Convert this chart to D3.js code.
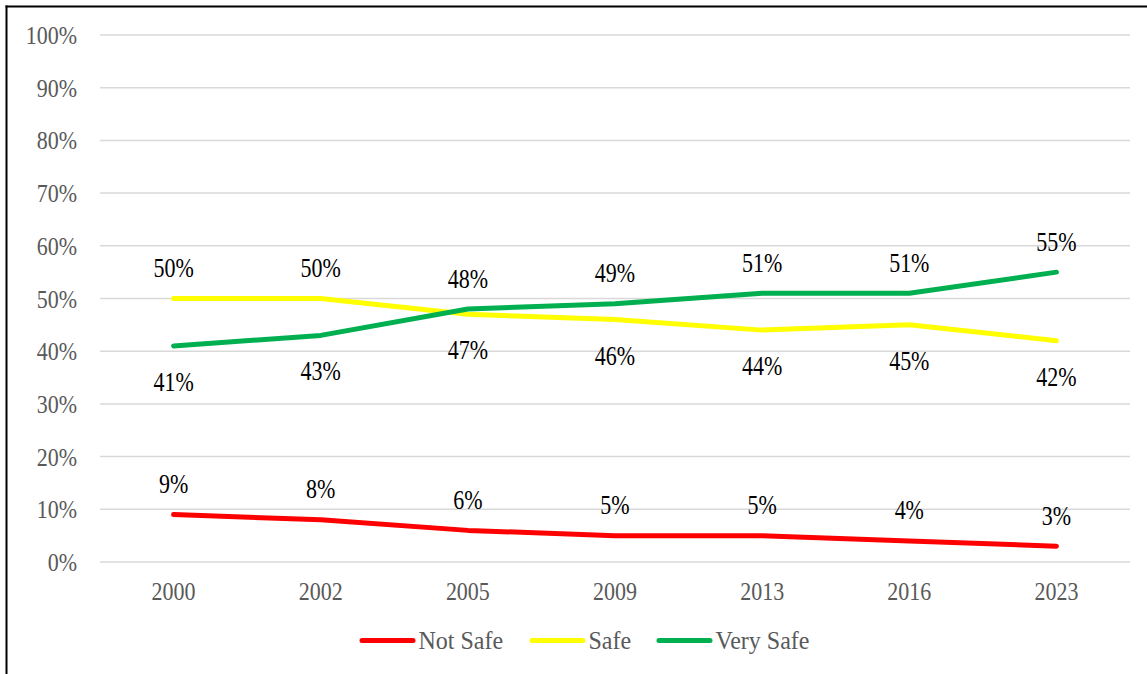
<!DOCTYPE html>
<html>
<head>
<meta charset="utf-8">
<script src="https://cdn.jsdelivr.net/npm/d3@7"></script>
<style>
    body { margin: 0; background: #fff; }
    svg { display: block; }
    svg text { font-family: 'Liberation Serif', 'Times New Roman', serif; }
</style>
</head>
<body>
<div id="chart"></div>
<script>
const years = ['2000', '2002', '2005', '2009', '2013', '2016', '2023'];
const notSafe = [9, 8, 6, 5, 5, 4, 3];
const safe = [50, 50, 47, 46, 44, 45, 42];
const verySafe = [41, 43, 48, 49, 51, 51, 55];
const yTicks = [0, 10, 20, 30, 40, 50, 60, 70, 80, 90, 100];

const seriesNames = ['Not Safe', 'Safe', 'Very Safe'];
const seriesValues = [notSafe, safe, verySafe];
const colors = ['#ff0000', '#ffff00', '#00b050'];

const W = 1147, H = 674;
const margin = { top: 35, right: 17, bottom: 112, left: 100 };
const width = W - margin.left - margin.right;
const height = H - margin.top - margin.bottom;
// text in the picture is a bit taller than wide
const tickStretch = 1.15;
const labelStretch = 1.22;

const svg = d3.select("#chart")
    .append("svg")
    .attr("width", W)
    .attr("height", H);

// outer frame (only left and top edges visible)
svg.append("line").attr("x1", 6.5).attr("x2", 6.5).attr("y1", 5.5).attr("y2", H)
    .attr("stroke", "#000").attr("stroke-width", 2);
svg.append("line").attr("x1", 5.5).attr("x2", W).attr("y1", 6.5).attr("y2", 6.5)
    .attr("stroke", "#000").attr("stroke-width", 2);

const g = svg.append("g")
    .attr("transform", `translate(${margin.left},${margin.top})`);

const x = d3.scaleBand()
    .domain(years)
    .range([0, width]);

const y = d3.scaleLinear()
    .domain([0, 100])
    .range([height, 0]);

// gridlines
g.append("g")
    .selectAll("line")
    .data(yTicks)
    .enter()
    .append("line")
    .attr("x1", 0)
    .attr("x2", width)
    .attr("y1", d => y(d))
    .attr("y2", d => y(d))
    .attr("stroke", "#d9d9d9")
    .attr("stroke-width", 1.5);

// y axis labels
const yAxis = g.append("g")
    .call(d3.axisLeft(y).tickValues(yTicks).tickSize(0).tickFormat(d => d + '%'));
yAxis.select(".domain").remove();
yAxis.selectAll("text")
    .attr("x", -23)
    .attr("y", 8.5 / tickStretch)
    .attr("dy", null)
    .attr("transform", `scale(1,${tickStretch})`)
    .style("font-size", "22px")
    .attr("fill", "#595959");

// x axis labels
const xAxis = g.append("g")
    .attr("transform", `translate(0, ${height})`)
    .call(d3.axisBottom(x).tickSize(0));
xAxis.select(".domain").remove();
xAxis.selectAll("text")
    .attr("y", 38 / tickStretch)
    .attr("dy", null)
    .attr("transform", `scale(1,${tickStretch})`)
    .style("font-size", "22px")
    .attr("fill", "#595959");

const line = d3.line()
    .x((d, i) => x(years[i]) + x.bandwidth() / 2)
    .y(d => y(d));

seriesValues.forEach((vals, s) => {
    g.append("path")
        .datum(vals)
        .attr("fill", "none")
        .attr("stroke", colors[s])
        .attr("stroke-width", 5)
        .attr("stroke-linecap", "round")
        .attr("stroke-linejoin", "round")
        .attr("d", line);
});

// data labels: middle series at a year sits below its point, others above
seriesValues.forEach((vals, s) => {
    g.append("g")
        .selectAll("text")
        .data(vals)
        .enter()
        .append("text")
        .attr("transform", (d, i) => {
            const sorted = seriesValues.map(v => v[i]).sort((a, b) => b - a);
            const below = d === sorted[1] && d !== sorted[0];
            const px = x(years[i]) + x.bandwidth() / 2;
            const py = below ? y(d) + 45 : y(d) - 21.5;
            return `translate(${px},${py}) scale(1,${labelStretch})`;
        })
        .attr("text-anchor", "middle")
        .style("font-size", "22px")
        .attr("fill", "#000")
        .text(d => d + '%');
});

// legend
const legendX = [362, 532, 659];
const legend = svg.append("g");
seriesNames.forEach((name, s) => {
    legend.append("line")
        .attr("x1", legendX[s])
        .attr("x2", legendX[s] + 51)
        .attr("y1", 640.5)
        .attr("y2", 640.5)
        .attr("stroke", colors[s])
        .attr("stroke-width", 5)
        .attr("stroke-linecap", "round");
    legend.append("text")
        .attr("transform", `translate(${legendX[s] + 56.5},649) scale(1,1.06)`)
        .style("font-size", "24px")
        .attr("fill", "#595959")
        .text(name);
});
</script>
</body>
</html>
